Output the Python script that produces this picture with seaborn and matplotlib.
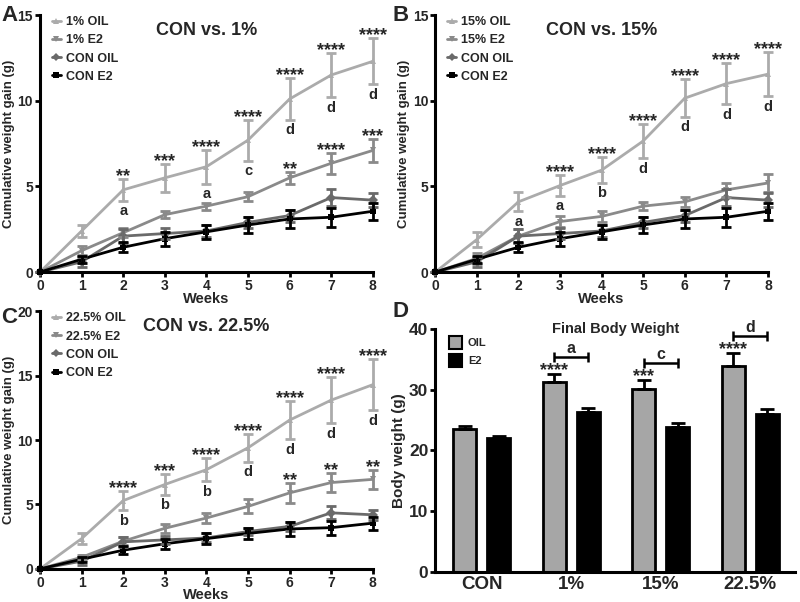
import numpy as np
import pandas as pd
import matplotlib
matplotlib.use('Agg')
import matplotlib.pyplot as plt
import seaborn as sns
from matplotlib.patches import Patch

# ---- data ----
weeks = [0, 1, 2, 3, 4, 5, 6, 7, 8]

con_oil = [0, 0.6, 2.1, 2.25, 2.4, 2.9, 3.3, 4.35, 4.2]
con_oil_sem = [0, 0.3, 0.4, 0.3, 0.35, 0.3, 0.35, 0.5, 0.4]
con_e2 = [0, 0.75, 1.45, 1.95, 2.35, 2.75, 3.1, 3.2, 3.55]
con_e2_sem = [0, 0.2, 0.3, 0.4, 0.4, 0.45, 0.55, 0.55, 0.5]

oil_1 = [0, 2.4, 4.8, 5.5, 6.15, 7.7, 10.1, 11.5, 12.3]
oil_1_sem = [0, 0.35, 0.65, 0.8, 1.0, 1.2, 1.2, 1.3, 1.35]
e2_1 = [0, 1.25, 2.3, 3.35, 3.85, 4.4, 5.5, 6.35, 7.1]
e2_1_sem = [0, 0.25, 0.25, 0.2, 0.2, 0.25, 0.35, 0.6, 0.65]

oil_15 = [0, 1.9, 4.1, 5.05, 5.95, 7.65, 10.15, 11.0, 11.55]
oil_15_sem = [0, 0.45, 0.55, 0.6, 0.75, 1.0, 1.1, 1.2, 1.3]
e2_15 = [0, 0.8, 2.1, 2.95, 3.25, 3.85, 4.1, 4.8, 5.2]
e2_15_sem = [0, 0.3, 0.4, 0.3, 0.3, 0.25, 0.3, 0.4, 0.55]

oil_225 = [0, 2.35, 5.3, 6.55, 7.7, 9.4, 11.55, 13.1, 14.3]
oil_225_sem = [0, 0.4, 0.75, 0.8, 0.9, 1.1, 1.5, 1.8, 2.0]
e2_225 = [0, 0.9, 2.15, 3.15, 3.95, 4.85, 5.9, 6.7, 6.95]
e2_225_sem = [0, 0.2, 0.3, 0.35, 0.4, 0.55, 0.75, 0.75, 0.75]

oil_stars_1 = ['', '', '**', '***', '****', '****', '****', '****', '****']
oil_letters_1 = ['', '', 'a', '', 'a', 'c', 'd', 'd', 'd']
e2_stars_1 = ['', '', '', '', '', '', '**', '****', '***']

oil_stars_15 = ['', '', '', '****', '****', '****', '****', '****', '****']
oil_letters_15 = ['', '', 'a', 'a', 'b', 'd', 'd', 'd', 'd']
e2_stars_15 = [''] * 9

oil_stars_225 = ['', '', '****', '***', '****', '****', '****', '****', '****']
oil_letters_225 = ['', '', 'b', 'b', 'b', 'd', 'd', 'd', 'd']
e2_stars_225 = ['', '', '', '', '', '', '**', '**', '**']

# final body weight
diets = ['CON', '1%', '15%', '22.5%']
fbw_oil = [23.5, 31.3, 30.2, 33.9]
fbw_oil_sem = [0.5, 1.3, 1.4, 2.1]
fbw_e2 = [22.1, 26.3, 23.9, 26.0]
fbw_e2_sem = [0.35, 0.7, 0.7, 0.8]
fbw_stars = ['', '****', '***', '****']
fbw_letters = ['', 'a', 'c', 'd']

sns.set_style('ticks')
plt.rcParams['font.family'] = ['Liberation Sans', 'DejaVu Sans']
plt.rcParams['font.weight'] = 'bold'
plt.rcParams['axes.labelweight'] = 'bold'
plt.rcParams['axes.titleweight'] = 'bold'

c_oil = '#ababab'
c_e2 = '#8a8a8a'
c_con_oil = '#6a6a6a'
c_con_e2 = '#000000'

fig = plt.figure(figsize=(8, 6.02), dpi=100)


def style_axes(ax):
    sns.despine(ax=ax)
    for s in ['left', 'bottom']:
        ax.spines[s].set_linewidth(2.2)
        ax.spines[s].set_color('black')
    ax.tick_params(width=2, length=3.5, color='black', pad=1.5)


def line_panel(rect, pct, oil, oil_sem, e2, e2_sem, ymax, ystep,
               oil_stars, oil_letters, e2_stars, title):
    ax = fig.add_axes(rect)
    g_oil, g_e2 = pct + ' OIL', pct + ' E2'
    order = [g_oil, g_e2, 'CON OIL', 'CON E2']
    series = {g_oil: (oil, oil_sem), g_e2: (e2, e2_sem),
              'CON OIL': (con_oil, con_oil_sem), 'CON E2': (con_e2, con_e2_sem)}
    df = pd.concat([pd.DataFrame({'week': weeks, 'gain': v[0], 'group': k})
                    for k, v in series.items()])
    pal = {g_oil: c_oil, g_e2: c_e2, 'CON OIL': c_con_oil, 'CON E2': c_con_e2}
    mk = {g_oil: '^', g_e2: 'v', 'CON OIL': 'D', 'CON E2': 's'}
    sns.lineplot(data=df, x='week', y='gain', hue='group', style='group',
                 hue_order=order, style_order=order, palette=pal, markers=mk,
                 dashes=False, markersize=5, markeredgewidth=0, linewidth=2,
                 errorbar=None, ax=ax, clip_on=False)
    for k in order:
        m, s = series[k]
        ax.errorbar(weeks[1:], m[1:], yerr=s[1:], fmt='none', ecolor=pal[k],
                    elinewidth=2, capsize=3.5, capthick=2, clip_on=False)
    # significance marks
    for i, w in enumerate(weeks):
        if oil_stars[i]:
            ax.annotate(oil_stars[i], (w, oil[i] + oil_sem[i]), xytext=(0, -1.5),
                        textcoords='offset points', ha='center', va='baseline',
                        fontsize=13)
        if oil_letters[i]:
            ax.annotate(oil_letters[i], (w, oil[i] - oil_sem[i]), xytext=(0, -7.5),
                        textcoords='offset points', ha='center', va='center',
                        fontsize=10.5)
        if e2_stars[i]:
            ax.annotate(e2_stars[i], (w, e2[i] + e2_sem[i]), xytext=(0, -1.5),
                        textcoords='offset points', ha='center', va='baseline',
                        fontsize=13)
    ax.set_xlim(0, 8)
    ax.set_ylim(0, ymax)
    ax.set_xticks(weeks)
    ax.set_yticks(np.arange(0, ymax + 1, ystep))
    ax.tick_params(labelsize=10)
    ax.set_xlabel('Weeks', fontsize=10.5, labelpad=-1)
    ax.set_ylabel('Cumulative weight gain (g)', fontsize=9.5, labelpad=2)
    style_axes(ax)
    h, l = ax.get_legend_handles_labels()
    ax.legend(h, l, loc='upper left', bbox_to_anchor=(0.01, 1.03), frameon=False,
              fontsize=9, handlelength=0.7, handletextpad=0.4, labelspacing=0.5,
              borderpad=0.2, markerscale=0.8)
    ax.text(0.5, 0.94, title, transform=ax.transAxes, ha='center', va='center',
            fontsize=13)
    return ax


line_panel([0.05, 0.548, 0.416, 0.427], '1%', oil_1, oil_1_sem, e2_1, e2_1_sem,
           15, 5, oil_stars_1, oil_letters_1, e2_stars_1, 'CON vs. 1%')
line_panel([0.544, 0.548, 0.416, 0.427], '15%', oil_15, oil_15_sem, e2_15, e2_15_sem,
           15, 5, oil_stars_15, oil_letters_15, e2_stars_15, 'CON vs. 15%')
line_panel([0.05, 0.055, 0.416, 0.428], '22.5%', oil_225, oil_225_sem, e2_225, e2_225_sem,
           20, 5, oil_stars_225, oil_letters_225, e2_stars_225, 'CON vs. 22.5%')

# ---- panel D: final body weight ----
axd = fig.add_axes([0.544, 0.05, 0.45, 0.4035])
dfd = pd.concat([pd.DataFrame({'diet': diets, 'bw': fbw_oil, 'trt': 'OIL'}),
                 pd.DataFrame({'diet': diets, 'bw': fbw_e2, 'trt': 'E2'})])
sns.barplot(data=dfd, x='diet', y='bw', hue='trt', order=diets, hue_order=['OIL', 'E2'],
            palette={'OIL': '#a6a6a6', 'E2': 'black'}, edgecolor='black', linewidth=2,
            width=0.76, gap=0.33, errorbar=None, legend=False, ax=axd)
oil_x = [p.get_x() + p.get_width() / 2 for p in axd.containers[0]]
e2_x = [p.get_x() + p.get_width() / 2 for p in axd.containers[1]]
axd.errorbar(oil_x, fbw_oil, yerr=[np.zeros(4), fbw_oil_sem], fmt='none', ecolor='black',
             elinewidth=2, capsize=5, capthick=2, zorder=1)
axd.errorbar(e2_x, fbw_e2, yerr=[np.zeros(4), fbw_e2_sem], fmt='none', ecolor='black',
             elinewidth=2, capsize=5, capthick=2, zorder=1)
for i in range(len(diets)):
    top = fbw_oil[i] + fbw_oil_sem[i]
    if fbw_stars[i]:
        axd.annotate(fbw_stars[i], (oil_x[i], top), xytext=(0, -0.5),
                     textcoords='offset points', ha='center', va='baseline',
                     fontsize=13)
    if fbw_letters[i]:
        yb = top + 2.8
        axd.errorbar([(oil_x[i] + e2_x[i]) / 2], [yb], xerr=[(e2_x[i] - oil_x[i]) / 2],
                     fmt='none', ecolor='black', elinewidth=1.8, capsize=3.5,
                     capthick=1.8, clip_on=False)
        axd.annotate(fbw_letters[i], ((oil_x[i] + e2_x[i]) / 2, yb), xytext=(0, 1),
                     textcoords='offset points', ha='center', va='bottom',
                     fontsize=11.5, annotation_clip=False)
axd.set_ylim(0, 40)
axd.set_yticks([0, 10, 20, 30, 40])
axd.set_xlim(-0.52, 3.5)
axd.set_xlabel('')
axd.set_ylabel('Body weight (g)', fontsize=11, labelpad=2)
style_axes(axd)
axd.tick_params(axis='x', length=0, labelsize=13.5, pad=3)
axd.tick_params(axis='y', labelsize=12.5)
axd.set_title('Final Body Weight', fontsize=10.5, y=0.985, pad=0)
axd.legend(handles=[Patch(facecolor='#a6a6a6', edgecolor='black', linewidth=1.5, label='OIL'),
                    Patch(facecolor='black', edgecolor='black', linewidth=1.5, label='E2')],
           loc='upper left', bbox_to_anchor=(0.02, 1.0), frameon=False, fontsize=8,
           handlelength=1.2, handleheight=1.45, handletextpad=0.5, labelspacing=0.45,
           borderpad=0.1)

# panel letters
fig.text(0.002, 0.974, 'A', fontsize=16, va='center')
fig.text(0.49, 0.974, 'B', fontsize=16, va='center')
fig.text(0.002, 0.472, 'C', fontsize=16, va='center')
fig.text(0.49, 0.483, 'D', fontsize=16, va='center')

fig.savefig('out.png', dpi=100)
